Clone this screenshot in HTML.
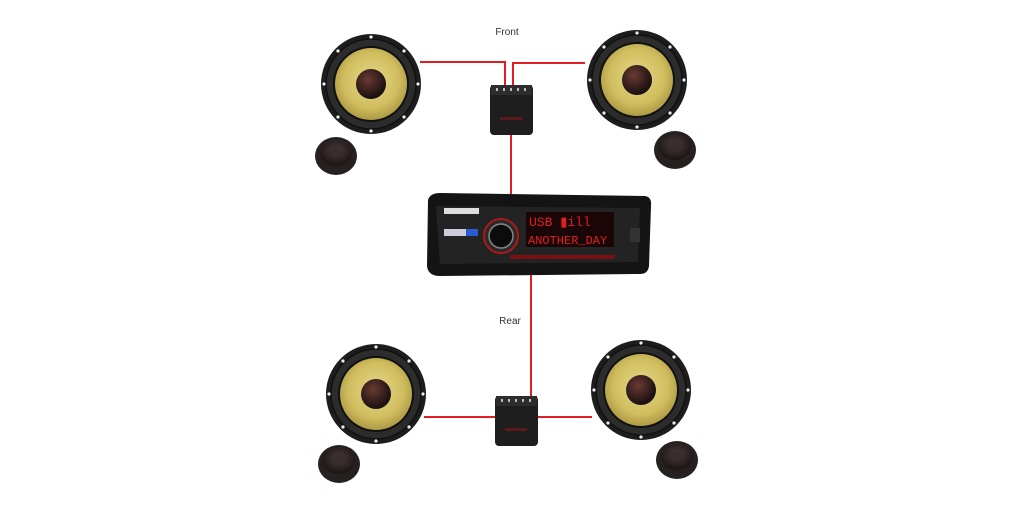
<!DOCTYPE html>
<html><head><style>
html,body{margin:0;padding:0;background:#fff;}
</style></head><body>
<svg width="1024" height="512" viewBox="0 0 1024 512" xmlns="http://www.w3.org/2000/svg">
<defs>
<radialGradient id="cone" cx="50%" cy="45%" r="55%">
<stop offset="0" stop-color="#e6d88a"/><stop offset="0.7" stop-color="#d0bd5e"/><stop offset="1" stop-color="#ad9a45"/>
</radialGradient>
<radialGradient id="dome" cx="40%" cy="35%" r="60%">
<stop offset="0" stop-color="#6b3a32"/><stop offset="1" stop-color="#1c1212"/>
</radialGradient>
<radialGradient id="tw" cx="50%" cy="40%" r="60%">
<stop offset="0" stop-color="#4a3c3a"/><stop offset="1" stop-color="#1a1414"/>
</radialGradient>
<g id="spk">
<circle r="50" fill="#1d1d1d"/>
<circle r="45" fill="#2c2c2c" stroke="#111" stroke-width="1.5"/>
<circle r="38" fill="#111"/>
<circle r="36" fill="url(#cone)"/>
<circle r="15" fill="url(#dome)"/>
<g fill="#eee">
<circle cx="0" cy="-47" r="1.6"/><circle cx="0" cy="47" r="1.6"/><circle cx="-47" cy="0" r="1.6"/><circle cx="47" cy="0" r="1.6"/>
<circle cx="33" cy="-33" r="1.6"/><circle cx="-33" cy="33" r="1.6"/><circle cx="-33" cy="-33" r="1.6"/><circle cx="33" cy="33" r="1.6"/>
</g>
</g>
<g id="twt">
<ellipse rx="21" ry="19" fill="#262020"/>
<ellipse rx="16" ry="13" cy="-3" fill="url(#tw)"/>
<circle r="5" cy="-4" fill="#3a2e2c"/>
</g>
<g id="xo">
<rect x="0" y="0" width="43" height="50" rx="4" fill="#1e1e1e"/>
<rect x="1" y="0" width="41" height="10" fill="#2d2d2d"/>
<g fill="#bbb"><rect x="6" y="3" width="2" height="3"/><rect x="13" y="3" width="2" height="3"/><rect x="20" y="3" width="2" height="3"/><rect x="27" y="3" width="2" height="3"/><rect x="34" y="3" width="2" height="3"/></g>
<rect x="10" y="32" width="22" height="3" fill="#5a1a1a"/>
</g>
</defs>

<g stroke="#e01e24" stroke-width="2" fill="none">
<polyline points="420,62 505,62 505,86"/>
<polyline points="585,63 513,63 513,86"/>
<line x1="511" y1="135" x2="511" y2="196"/>
<line x1="531" y1="272" x2="531" y2="398"/>
<line x1="424" y1="417" x2="495" y2="417"/>
<line x1="538" y1="417" x2="592" y2="417"/>
</g>

<text x="507" y="35" font-family="Liberation Sans, sans-serif" font-size="10" fill="#333" text-anchor="middle">Front</text>
<text x="510" y="324" font-family="Liberation Sans, sans-serif" font-size="10" fill="#333" text-anchor="middle">Rear</text>

<use href="#spk" x="371" y="84"/>
<use href="#spk" x="637" y="80"/>
<use href="#twt" x="336" y="156"/>
<use href="#twt" x="675" y="150"/>
<use href="#xo" x="490" y="85"/>

<use href="#spk" x="376" y="394"/>
<use href="#spk" x="641" y="390"/>
<use href="#twt" x="339" y="464"/>
<use href="#twt" x="677" y="460"/>
<use href="#xo" x="495" y="396"/>

<g>
<path d="M428,200 Q430,193 440,193 L645,196 Q652,197 651,206 L649,266 Q648,274 640,274 L440,276 Q428,276 427,266 Z" fill="#141414"/>
<path d="M436,206 L640,208 L638,262 L440,264 Z" fill="#232323"/>
<rect x="444" y="208" width="35" height="6" fill="#ddd"/>
<rect x="444" y="229" width="22" height="7" fill="#ccd"/>
<rect x="466" y="229" width="12" height="7" fill="#2a5bd0"/>
<circle cx="501" cy="236" r="17" fill="#2a2a2a" stroke="#b01818" stroke-width="2"/>
<circle cx="501" cy="236" r="12" fill="#0c0c0c" stroke="#888" stroke-width="1.5"/>
<rect x="526" y="212" width="88" height="35" fill="#1a0606"/>
<text x="529" y="226" font-family="Liberation Mono, monospace" font-size="13" fill="#e0201e">USB ▮ill</text>
<text x="528" y="244" font-family="Liberation Mono, monospace" font-size="12" fill="#e0201e">ANOTHER_DAY</text>
<rect x="510" y="255" width="105" height="4" fill="#7a1010"/>
<rect x="630" y="228" width="10" height="14" fill="#333"/>
</g>
</svg>
</body></html>
